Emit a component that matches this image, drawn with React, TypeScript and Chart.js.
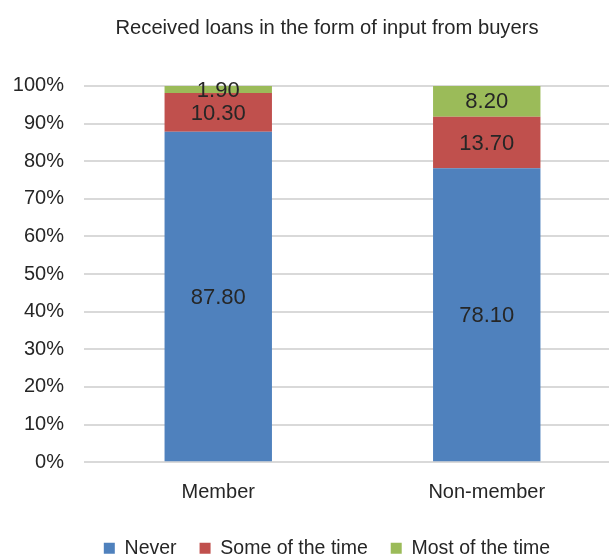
import React, { useEffect, useRef } from "react";
import { Chart, registerables } from "chart.js";

Chart.register(...registerables);

const categories = ["Member", "Non-member"];
const seriesNames = ["Never", "Some of the time", "Most of the time"];
const neverValues = [87.8, 78.1];
const someValues = [10.3, 13.7];
const mostValues = [1.9, 8.2];
const seriesColors = ["#4f81bd", "#c0504d", "#9bbb59"];
const yTicks = [0, 10, 20, 30, 40, 50, 60, 70, 80, 90, 100];
const titleText = "Received loans in the form of input from buyers";

const FONT = "'Liberation Sans', Arial, sans-serif";
const TEXT = "#262626";

const valueLabels = {
  id: "valueLabels",
  afterDatasetsDraw(chart: any) {
    const ctx = chart.ctx;
    ctx.save();
    ctx.font = `22px ${FONT}`;
    ctx.fillStyle = TEXT;
    ctx.textAlign = "center";
    ctx.textBaseline = "middle";
    chart.data.datasets.forEach((ds: any, i: number) => {
      const meta = chart.getDatasetMeta(i);
      meta.data.forEach((bar: any, j: number) => {
        const v = ds.data[j];
        const props = bar.getProps(["x", "y", "base"], true);
        ctx.fillText(v.toFixed(2), props.x, (props.y + props.base) / 2 + 1);
      });
    });
    ctx.restore();
  },
};

// let the y-axis labels use the space of the left layout padding (no clipping)
const widenYLabels = {
  id: "widenYLabels",
  afterLayout(chart: any) {
    if (chart.scales.y) chart.scales.y.left = 0;
  },
};

export default function App() {
  const ref = useRef<HTMLCanvasElement>(null);
  useEffect(() => {
    if (!ref.current) return;
    const chart = new Chart(ref.current, {
      type: "bar",
      data: {
        labels: categories,
        datasets: [neverValues, someValues, mostValues].map((d, i) => ({
          label: seriesNames[i],
          data: d,
          backgroundColor: seriesColors[i],
          borderWidth: 0,
          categoryPercentage: 1,
          barPercentage: 0.4,
        })),
      },
      options: {
        responsive: false,
        animation: false,
        devicePixelRatio: 1,
        layout: { padding: { left: 33, right: 0, top: 0, bottom: 0 } },
        plugins: {
          title: {
            display: true,
            text: titleText,
            color: TEXT,
            font: { family: FONT, size: 20.2, weight: "normal" },
            padding: { top: 16, bottom: 45.7 },
          },
          legend: {
            position: "bottom",
            labels: {
              boxWidth: 11,
              boxHeight: 11,
              padding: 23,
              color: TEXT,
              font: { family: FONT, size: 19.5 },
            },
          },
          tooltip: { enabled: false },
        },
        scales: {
          x: {
            stacked: true,
            grid: { display: false },
            border: { display: false },
            ticks: {
              color: TEXT,
              font: { family: FONT, size: 20 },
              padding: 10,
            },
            afterFit(scale: any) {
              scale.height = 53.3;
            },
          },
          y: {
            stacked: true,
            min: 0,
            max: 100,
            afterBuildTicks(scale: any) {
              scale.ticks = yTicks.map((v) => ({ value: v }));
            },
            grid: { color: "#d9d9d9", lineWidth: 2, drawTicks: false },
            border: { display: false },
            ticks: {
              color: TEXT,
              font: { family: FONT, size: 20 },
              padding: 20,
              callback: (v: any) => `${v}%`,
            },
            afterFit(scale: any) {
              scale.width = 51;
            },
          },
        },
      },
      plugins: [valueLabels, widenYLabels],
    });
    return () => chart.destroy();
  }, []);
  return (
    <div
      style={{
        position: "fixed",
        left: 0,
        top: 0,
        width: 609,
        height: 559,
        overflow: "hidden",
        background: "#fff",
      }}
    >
      <canvas ref={ref} width={621} height={568} style={{ display: "block" }} />
    </div>
  );
}
